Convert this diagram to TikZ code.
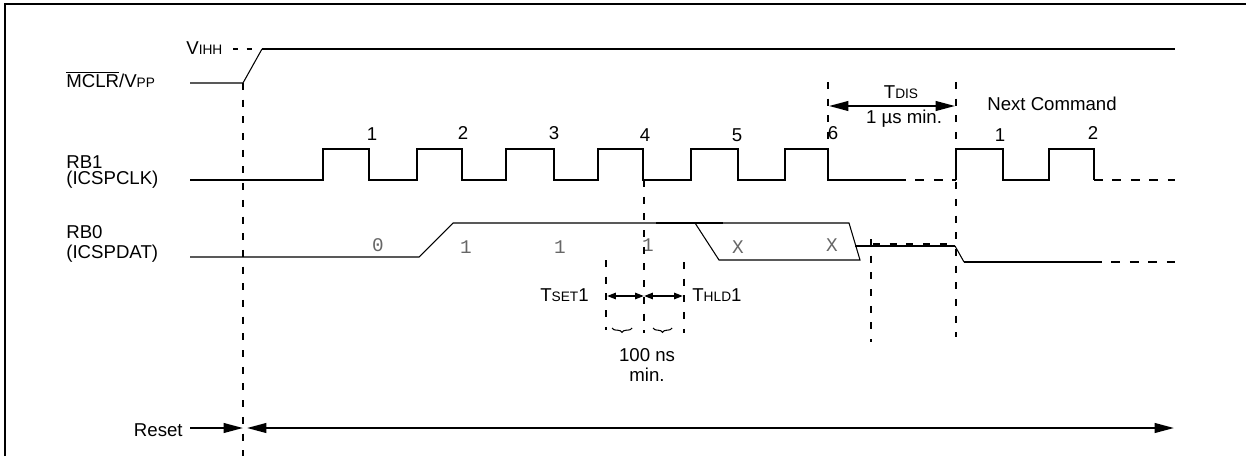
\documentclass[tikz,border=0pt]{standalone}
\usepackage{fontspec}
\setmainfont{Liberation Sans}
\newfontfamily\bitfont{Liberation Mono}
\usetikzlibrary{arrows.meta,decorations.pathreplacing}
\tikzstyle{sigtext}=[inner sep=0pt, font=\fontsize{10.6}{9.5}\selectfont]
\tikzstyle{bit}=[inner sep=0pt, text=black!60, font=\bitfont\fontsize{11}{11}\selectfont]
\tikzstyle{wave}=[draw,line width=1.1pt]
\tikzstyle{fine}=[draw,line width=0.6pt]
\tikzstyle{tail}=[draw,line width=1.1pt,dash pattern=on 5pt off 5.5pt]
\tikzstyle{guide}=[draw,line width=1.1pt,dash pattern=on 4pt off 5.5pt]
\tikzstyle{span}=[draw,line width=1.1pt,-{Triangle[length=11pt,width=5.5pt]}]
\tikzstyle{dspan}=[draw,line width=1.1pt,{Triangle[length=11pt,width=5.5pt]}-{Triangle[length=11pt,width=5.5pt]}]
\tikzstyle{tiny}=[draw,line width=1.1pt,{Triangle[length=5pt,width=3.5pt]}-{Triangle[length=5pt,width=3.5pt]}]
\tikzstyle{curly}=[draw,line width=0.6pt,decorate,decoration={brace,mirror,amplitude=2.5pt}]
\newcommand{\lc}[1]{{\fontsize{7.8}{7.8}\selectfont #1}}

\begin{document}
\begin{tikzpicture}[x=0.02cm,y=-0.02cm]

            % frame
            \draw[line width=1.1pt] (5,456) -- (5,4) -- (1246,4);

            % signal names
            \node[sigtext,anchor=base west] (mclr) at (66,88) {$\overline{\mbox{MCLR}}$/V\lc{PP}};
            \node[sigtext,anchor=west,align=left] (rb1) at (66,172) {RB1\\(ICSPCLK)};
            \node[sigtext,anchor=west,align=left] (rb0) at (66,244) {RB0\\[1.8pt](ICSPDAT)};
            \node[sigtext,anchor=base west] (vihh) at (186,55) {V\lc{IHH}};

            % MCLR/VPP
            \path[fine] (190,83) -- (243,83) -- (262,49);
            \path[wave] (262,49) -- (1175,49);
            \path[fine,dash pattern=on 2.8pt off 5pt] (233,49) -- (253,49);

            % RB1 clock
            \path[wave] (190,180) -- (323,180) -- (323,149) -- (369,149) -- (369,180)
                -- (417,180) -- (417,149) -- (462,149) -- (462,180)
                -- (506,180) -- (506,149) -- (554,149) -- (554,180)
                -- (598,180) -- (598,149) -- (643,149) -- (643,180)
                -- (691,180) -- (691,149) -- (738,149) -- (738,180)
                -- (785,180) -- (785,149) -- (828,149) -- (828,180) -- (897,180);
            \path[tail] (897,180) -- (956,180);
            \path[wave] (956,180) -- (956,149) -- (1003,149) -- (1003,180)
                -- (1049,180) -- (1049,149) -- (1094,149) -- (1094,180);
            \path[tail] (1094,180) -- (1175,180);

            \node[sigtext] (c1) at (372,134) {1};
            \node[sigtext] (c2) at (463,133) {2};
            \node[sigtext] (c3) at (554,133) {3};
            \node[sigtext] (c4) at (645,135) {4};
            \node[sigtext] (c5) at (737,135) {5};
            \node[sigtext] (c6) at (833,133) {6};
            \node[sigtext] (n1) at (1000,135) {1};
            \node[sigtext] (n2) at (1093,133) {2};

            % RB0 data
            \path[fine] (190,257) -- (419,257) -- (453,223) -- (849,223) -- (860,260) -- (719,260) -- (695,223);
            \path[wave] (656,223) -- (723,223);
            \path[wave] (855,246) -- (955,246);
            \path[guide] (873,244) -- (955,244);
            \path[fine] (955,246) -- (964,262);
            \path[wave] (964,262) -- (1093,262);
            \path[tail] (1093,262) -- (1175,262);

            \node[bit] (b0) at (378,245) {0};
            \node[bit] (b1) at (466,247) {1};
            \node[bit] (b2) at (560,247) {1};
            \node[bit] (b3) at (648,245) {1};
            \node[bit] (b4) at (738,247) {X};
            \node[bit] (b5) at (832,245) {X};

            % guide lines
            \path[guide] (243,83) -- (243,456);
            \path[guide] (644,180) -- (644,333);
            \path[guide] (828,82) -- (828,149);
            \path[guide] (956,82) -- (956,337);
            \path[guide] (606,260) -- (606,330);
            \path[guide] (684,262) -- (684,333);
            \path[guide] (871,239) -- (871,342);

            % TDIS
            \coordinate (d0) at (829,106);
            \coordinate (d1) at (955,106);
            \path[dspan] (d0) -- (d1);
            \node[sigtext] (tdis) at (901,92) {T\lc{DIS}};
            \node[sigtext] (tdismin) at (904,119) {1 µs min.};
            \node[sigtext] (next) at (1052,104) {Next Command};

            % TSET1 / THLD1
            \coordinate (s0) at (607,296);
            \coordinate (s1) at (644,296);
            \coordinate (s2) at (683,296);
            \path[tiny] (s0) -- (s1);
            \path[tiny] (s1) -- (s2);
            \node[sigtext,anchor=east] (tset) at (589,295) {T\lc{SET}1};
            \node[sigtext,anchor=west] (thld) at (692,295) {T\lc{HLD}1};

            \coordinate (k0) at (612,328);
            \coordinate (k1) at (632,328);
            \coordinate (k2) at (653,328);
            \coordinate (k3) at (672,328);
            \path[curly] (k0) -- (k1);
            \path[curly] (k2) -- (k3);
            \node[sigtext,align=center] (tmin) at (647,365) {100 ns\\[1.5pt]min.};

            % Reset
            \node[sigtext,anchor=east] (reset) at (183,430) {Reset};
            \coordinate (r0) at (190,428);
            \coordinate (r1) at (243,428);
            \coordinate (r2) at (247,428);
            \coordinate (r3) at (1174,428);
            \path[span] (r0) -- (r1);
            \path[dspan] (r2) -- (r3);

            \pgfresetboundingbox
            \path [use as bounding box] (0,0) rectangle (1246,456);
        \end{tikzpicture}
\end{document}
